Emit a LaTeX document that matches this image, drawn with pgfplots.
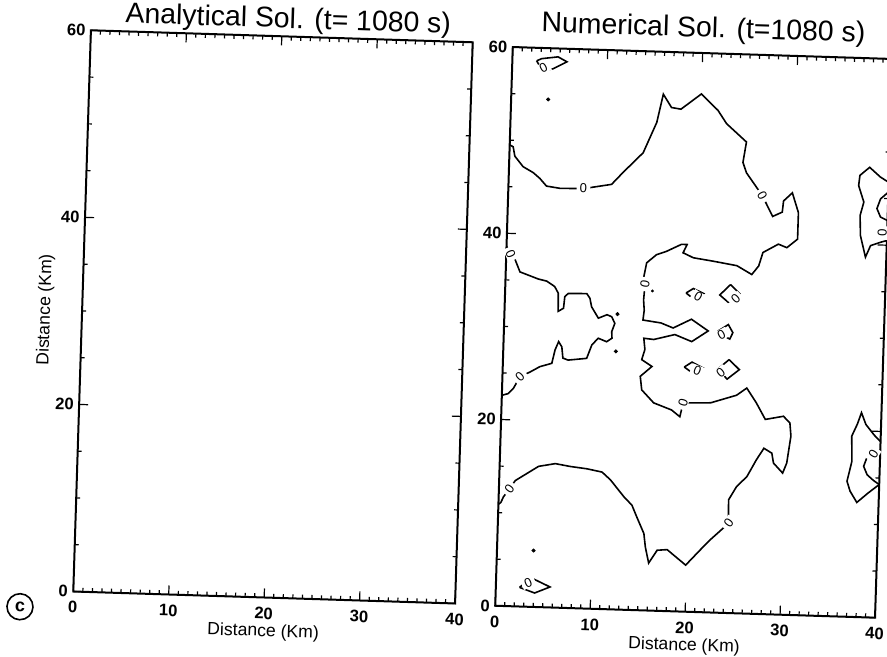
\documentclass[border=0pt]{standalone}
\usepackage{fontspec}
\setmainfont{Liberation Sans}
\usepackage{pgfplots}
\pgfplotsset{compat=1.18}

% common look of the two panels
\pgfplotsset{
  panel/.style={
    scale only axis,
    xmin=0, xmax=40, ymin=0, ymax=60,
    xtick={0,10,20,30,40}, ytick={0,20,40,60},
    minor x tick num=9, minor y tick num=3,
    tick align=inside,
    major tick length=4.5pt, minor tick length=2pt,
    every tick/.append style={black, line width=0.6pt},
    axis line style={line width=1pt},
    /pgf/number format/assume math mode=true,
    ticklabel style={font=\bfseries\fontsize{8.3}{9}\selectfont},
    xticklabel style={anchor=north, inner sep=0pt, yshift=-4.8pt},
    yticklabel style={anchor=east, inner sep=0pt, xshift=-2.5pt},
    every axis x label/.style={at={(axis description cs:0.5,0)}, anchor=base, yshift=-19.5pt, font=\fontsize{8.8}{10}\selectfont},
    every axis y label/.style={at={(axis description cs:-0.0838,0.5)}, rotate=90, anchor=base, font=\fontsize{8.8}{10}\selectfont},
    every axis title/.style={at={(axis description cs:0.5,1)}, anchor=base, font=\fontsize{14.2}{16}\selectfont},
    xlabel={Distance (Km)},
  },
  contour/.style={black, line width=0.8pt, mark=none},
  zerolabels/.style={
    only marks, mark=*, mark size=0pt, mark options={draw=none, fill=none},
    nodes near coords={0},
    visualization depends on={\thisrow{a}\as\ang},
    every node near coord/.style={anchor=center, rotate=\ang, fill=white,
      inner xsep=1.6pt, inner ysep=0.3pt, font=\fontsize{6.5}{7}\selectfont},
  },
}

\begin{document}
\begin{tikzpicture}
\useasboundingbox (0,0) rectangle (443.5pt,328.5pt);
\begin{scope}[transform canvas={rotate around={-1.8:(221.75pt,164.25pt)}}]

% ---------------- analytical solution ----------------
\begin{axis}[panel,
  at={(40.85pt,27pt)}, anchor=south west,
  width=191pt, height=280.75pt,
  ylabel={Distance (Km)},
  title={Analytical Sol. (t= 1080 s)},
  title style={yshift=4.25pt, xshift=3pt},
]
\end{axis}

% ---------------- numerical solution -----------------
\begin{axis}[panel,
  at={(251.95pt,26.5pt)}, anchor=south west,
  width=190pt, height=279.5pt,
  title={Numerical Sol. (t=1080 s)},
  title style={yshift=8pt},
]
% large zero contour, left edge top to left edge bottom
\addplot[contour] coordinates {
(0,49.5) (0.37,49.3) (0.58,48.3) (1.48,47.2) (2.56,46.6) (3.28,46.0) (4.0,45.2)
(5.43,45.0) (7.9,45.05) (10.85,45.6) (12.0,46.9) (14.07,49.1) (15.4,52.4)
(16.0,55.45) (16.9,54.05) (17.9,53.9) (20.0,55.6) (21.8,53.9) (22.75,52.5)
(24.9,50.6) (24.6,48.4) (25.0,47.3) (26.75,44.9) (27.9,42.7) (28.9,43.2)
(29.0,44.4) (29.9,45.3) (30.6,43.2) (30.6,40.35) (29.5,39.4) (28.6,39.75)
(27.0,38.8) (26.6,37.35) (25.9,36.4) (24.3,37.3) (21.8,37.7) (19.7,38.0)
(18.6,38.5) (19.0,39.4) (18.4,39.4) (16.85,38.6) (15.8,38.2) (14.8,37.3)
(14.5,35.5) (14.7,35.0) (14.6,33.3) (14.7,32.2) (14.6,31.15) (16.5,30.9)
(17.8,30.4) (19.7,31.4) (21.5,30.2) (19.8,29.0) (18.0,29.7) (15.8,29.1)
(14.75,29.2) (14.9,28.0) (14.6,26.9) (15.7,26.2) (14.5,25.1) (14.7,23.65)
(16.0,22.3) (17.9,21.6) (18.8,20.9) (19.1,22.4) (22.0,22.5) (24.7,23.4)
(25.75,24.2) (26.8,22.65) (27.8,20.9) (29.7,21.3) (30.4,20.6) (30.55,19.2)
(30.5,18.8) (30.2,16.3) (29.8,15.2) (28.8,16.25) (28.6,17.3) (27.75,17.8)
(27.0,16.55) (26.05,14.7) (25.0,13.6) (24.2,12.15) (24.25,10.35) (24.3,9.65)
(22.4,7.8) (21.4,6.7) (19.9,5.0) (17.9,6.6) (16.85,6.5) (16.0,5.1) (15.6,6.8)
(15.4,8.25) (14.6,10.0) (14.05,11.25) (13.2,12.1) (11.7,13.9) (10.8,14.7)
(9.2,15.0) (7.4,15.2) (5.85,15.45) (4.1,15.1) (3.2,14.5) (1.7,13.5)
(1.1,12.6) (0.5,11.7) (0.25,11.1) (0,10.9)
};
% middle-left lobe
\addplot[contour] coordinates {
(0,38.6) (0.45,37.8) (0.95,37.2) (1.5,35.9) (3.45,35.2) (4.35,35.0) (5.2,34.45)
(5.6,33.75) (5.65,31.8) (6.2,32.15) (6.3,33.4) (6.65,33.75) (8.6,33.8)
(8.95,33.3) (9.15,32.4) (9.9,31.2) (10.8,31.6) (11.3,31.4) (11.65,30.7)
(11.35,29.8) (11.4,29.1) (10.85,28.7) (9.95,29.05) (9.3,28.3) (8.8,26.85)
(6.85,26.6) (6.3,26.8) (6.15,28.0) (5.8,28.55) (5.45,27.65) (5.15,26.2)
(3.9,25.8) (2.9,25.2) (1.85,24.65) (1.2,23.4) (0.65,22.8) (0,22.6)
};
% small closed contours
\addplot[contour] coordinates {(2.56,58.6) (3.07,58.85) (4.8,59.1) (5.75,58.6) (4.3,57.8) (3.6,57.65) (2.9,58.05) (2.56,58.6)};
\addplot[contour] coordinates {(2.5,2.05) (3.1,2.6) (3.95,3.0) (5.7,2.2) (4.1,1.5) (2.5,2.05)};
\addplot[contour] coordinates {(19.05,34.2) (19.8,34.7) (20.9,34.2) (20.35,33.8) (19.7,33.7) (19.05,34.2)};
\addplot[contour] coordinates {(23.7,35.25) (24.7,34.3) (24.3,33.7) (23.5,33.35) (22.6,34.1) (23.7,35.25)};
\addplot[contour] coordinates {(22.5,30.2) (23.6,30.95) (24.1,30.1) (23.8,29.4) (22.9,29.85) (22.5,30.2)};
\addplot[contour] coordinates {(19.1,26.25) (19.9,26.8) (21.1,26.2) (20.5,25.9) (19.75,25.8) (19.1,26.25)};
\addplot[contour] coordinates {(23.8,27.2) (24.9,26.15) (23.65,25.1) (22.95,25.8) (22.65,26.15) (23.8,27.2)};
% contours at the right edge, upper
\addplot[contour] coordinates {
(40,46.75) (39.1,47.3) (37.95,48.3) (36.95,47.4) (36.85,46.3) (37.45,44.55)
(37.1,43.1) (37.2,40.95) (37.8,38.65) (38.3,39.9) (39.35,40.3) (40,40.5)
};
\addplot[contour] coordinates {(40,45.7) (39.2,44.95) (38.85,43.9) (39.25,43.0) (40,42.65)};
% contours at the right edge, lower
\addplot[contour] coordinates {
(40,18.9) (39.3,19.6) (38.4,20.7) (37.9,21.95) (37.5,20.7) (36.95,19.4)
(37.05,16.7) (36.6,14.55) (36.95,13.5) (37.7,12.3) (38.8,13.3) (40,14.3)
};
\addplot[contour] coordinates {(40,18.0) (39.3,17.5) (38.6,17.1) (38.3,16.2) (38.7,15.3) (39.4,14.7) (40,14.3)};
% isolated extrema
\addplot[only marks, mark=*, mark size=0.8pt, black] coordinates {(3.9,54.5) (11.9,31.7) (11.85,27.7) (3.85,6.05)};
\addplot[only marks, mark=*, mark size=0.5pt, black] coordinates {(15.5,34.3)};
% contour level labels
\addplot[zerolabels] table {
x y a
7.9 45.05 0
26.75 44.9 -60
14.7 35.0 80
19.1 22.4 75
24.3 9.65 55
1.1 12.6 55
0.45 37.8 -65
1.85 24.65 45
3.3 57.85 30
3.4 2.6 25
20.35 33.8 -30
24.3 33.7 45
22.9 29.85 30
20.5 25.9 -20
22.95 25.8 40
39.5 41.3 90
39.3 17.5 60
};
\end{axis}

\node[draw, circle, line width=0.8pt, minimum size=13pt, inner sep=0pt,
  font=\bfseries\fontsize{9}{10}\selectfont] at (14.45pt,18.55pt) {c};
\end{scope}
\end{tikzpicture}
\end{document}
